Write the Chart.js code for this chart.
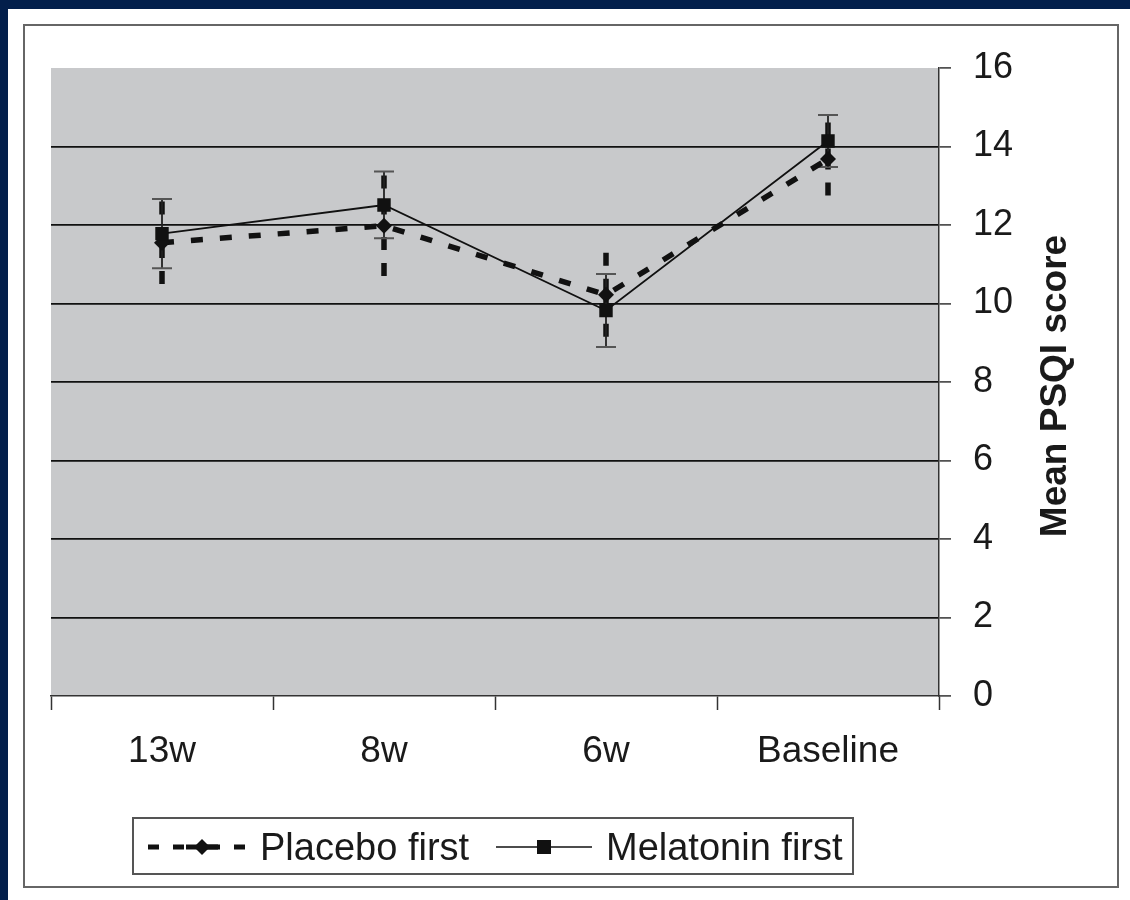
<!DOCTYPE html>
<html>
<head>
<meta charset="utf-8">
<script src="https://cdn.jsdelivr.net/npm/chart.js@4.4.1/dist/chart.umd.min.js"></script>
<style>
  html, body { margin: 0; padding: 0; }
  body { width: 1130px; height: 900px; background: #031f4b; position: relative; overflow: hidden; font-family: "Liberation Sans", Arial, sans-serif; }
  #panel { position: absolute; left: 8px; top: 9px; width: 1122px; height: 891px; background: #fff; }
  #frame { position: absolute; left: 23px; top: 24px; width: 1096px; height: 864px; border: 2px solid #666; box-sizing: border-box; }
  #studyChart { position: absolute; left: 0; top: 0; }
  #legend { position: absolute; left: 132px; top: 817px; width: 722px; height: 58px; border: 2px solid #555; box-sizing: border-box; color: #1a1a1a; font-size: 38px; }
  #legend span, #legend svg { position: absolute; }
  #legend span { top: 6px; line-height: 44px; white-space: nowrap; }
</style>
</head>
<body>
<div id="panel"></div>
<div id="frame"></div>
<canvas id="studyChart" width="1130" height="900"></canvas>
<div id="legend">
  <svg style="left:12px;top:16px" width="112" height="24">
    <line x1="2" y1="12" x2="110" y2="12" stroke="#111" stroke-width="5" stroke-dasharray="11 14 11 0 0 14 11 0" />
    <line x1="40" y1="12" x2="72" y2="12" stroke="#111" stroke-width="5" />
    <polygon points="56,4 64,12 56,20 48,12" fill="#111" />
  </svg>
  <span style="left:126px">Placebo first</span>
  <svg style="left:360px;top:16px" width="100" height="24">
    <line x1="2" y1="12" x2="98" y2="12" stroke="#111" stroke-width="1.5" />
    <rect x="43" y="5" width="14" height="14" fill="#111" />
  </svg>
  <span style="left:472px">Melatonin first</span>
</div>
<script>
const labels = ["13w", "8w", "6w", "Baseline"];
const placeboMean = [11.55, 11.98, 10.22, 13.68];
const placeboErr = [1.05, 1.28, 1.07, 0.93];
const melatoninMean = [11.78, 12.51, 9.82, 14.14];
const melatoninErr = [0.88, 0.85, 0.93, 0.66];
const yTicks = [0, 2, 4, 6, 8, 10, 12, 14, 16];

const textColor = "#1a1a1a";
const lineColor = "#111";

// error bars, drawn through the chart's own scales
const errorBars = {
  id: "errorBars",
  beforeDatasetsDraw(chart) {
    const ctx = chart.ctx;
    const x = chart.scales.x;
    const y = chart.scales.y;
    ctx.save();
    labels.forEach((lab, i) => {
      const px = x.getPixelForValue(i);
      // placebo: thick dashes, drawn from the ends inward
      const pc = y.getPixelForValue(placeboMean[i]);
      const pt = y.getPixelForValue(placeboMean[i] + placeboErr[i]);
      const pb = y.getPixelForValue(placeboMean[i] - placeboErr[i]);
      ctx.strokeStyle = lineColor;
      ctx.lineWidth = 5.5;
      ctx.setLineDash([13, 13]);
      ctx.beginPath();
      ctx.moveTo(px, pt);
      ctx.lineTo(px, pc);
      ctx.moveTo(px, pb);
      ctx.lineTo(px, pc);
      ctx.stroke();
      // melatonin: thin solid with caps
      const mt = y.getPixelForValue(melatoninMean[i] + melatoninErr[i]);
      const mb = y.getPixelForValue(melatoninMean[i] - melatoninErr[i]);
      ctx.setLineDash([]);
      ctx.lineWidth = 1.8;
      ctx.strokeStyle = "#222";
      ctx.beginPath();
      ctx.moveTo(px, mt);
      ctx.lineTo(px, mb);
      ctx.stroke();
      ctx.strokeStyle = "#555";
      ctx.lineWidth = 2;
      ctx.beginPath();
      ctx.moveTo(px - 10, mt);
      ctx.lineTo(px + 10, mt);
      ctx.moveTo(px - 10, mb);
      ctx.lineTo(px + 10, mb);
      ctx.stroke();
    });
    ctx.restore();
  },
};

const plotBackground = {
  id: "plotBackground",
  beforeDraw(chart) {
    const a = chart.chartArea;
    chart.ctx.save();
    chart.ctx.fillStyle = "#c8c9cb";
    chart.ctx.fillRect(a.left, a.top, a.right - a.left, a.bottom - a.top);
    chart.ctx.restore();
  },
};

// right-hand title reading bottom to top
const yTitle = {
  id: "yTitle",
  afterDraw(chart) {
    const ctx = chart.ctx;
    const a = chart.chartArea;
    ctx.save();
    ctx.translate(1056, (a.top + a.bottom) / 2 + 4);
    ctx.rotate(-Math.PI / 2);
    ctx.font = 'bold 37px "Liberation Sans", Arial, sans-serif';
    ctx.fillStyle = textColor;
    ctx.textAlign = "center";
    ctx.textBaseline = "middle";
    ctx.fillText("Mean PSQI score", 0, 0);
    ctx.restore();
  },
};

const ctx = document.getElementById("studyChart");

new Chart(ctx, {
  type: "line",
  data: {
    labels: labels,
    datasets: [
      {
        label: "Melatonin first",
        data: melatoninMean,
        order: 0,
        borderColor: lineColor,
        backgroundColor: lineColor,
        borderWidth: 1.8,
        pointStyle: "rect",
        pointRadius: 9.5,
        pointBorderWidth: 0,
        tension: 0,
      },
      {
        label: "Placebo first",
        data: placeboMean,
        order: 1,
        borderColor: lineColor,
        backgroundColor: lineColor,
        borderWidth: 5.5,
        borderDash: [12, 17],
        pointStyle: "rectRot",
        pointRadius: 8,
        pointBorderWidth: 0,
        tension: 0,
      },
    ],
  },
  options: {
    responsive: false,
    animation: false,
    layout: { padding: { left: 51, top: 68, right: 0, bottom: 0 } },
    plugins: {
      legend: { display: false },
      tooltip: { enabled: false },
      title: { display: false },
    },
    scales: {
      x: {
        type: "category",
        offset: true,
        afterFit(scale) {
          scale.height = 900 - 696;
        },
        grid: {
          offset: true,
          drawOnChartArea: false,
          drawTicks: true,
          tickLength: 14,
          tickColor: "#333",
          tickWidth: 1.5,
        },
        border: { display: true, color: "#333", width: 1.5 },
        ticks: {
          color: textColor,
          padding: 20,
          maxRotation: 0,
          font: { family: "'Liberation Sans', Arial, sans-serif", size: 37 },
        },
      },
      y: {
        position: "right",
        min: 0,
        max: 16,
        afterFit(scale) {
          scale.width = 1130 - 939;
        },
        afterBuildTicks(scale) {
          scale.ticks = yTicks.map((v) => ({ value: v }));
        },
        grid: {
          color: (c) => (c.tick && (c.tick.value === 0 || c.tick.value === 16) ? "rgba(0,0,0,0)" : "#111"),
          lineWidth: 1.8,
          tickLength: 12,
          tickColor: "#333",
          tickWidth: 1.5,
        },
        border: { display: true, color: "#333", width: 1.5 },
        ticks: {
          color: textColor,
          padding: 22,
          font: { family: "'Liberation Sans', Arial, sans-serif", size: 36 },
        },
      },
    },
  },
  plugins: [plotBackground, errorBars, yTitle],
});
</script>
</body>
</html>
